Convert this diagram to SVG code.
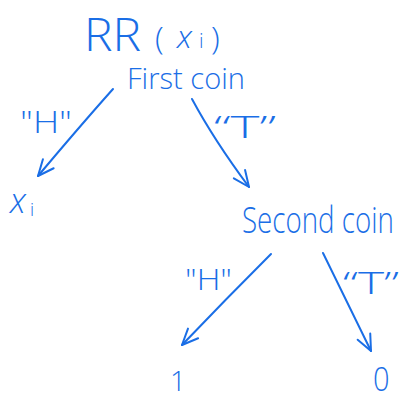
<svg xmlns="http://www.w3.org/2000/svg" width="401" height="400" viewBox="0 0 401 400">
  <defs>
    <style>
      .ink { fill: #1a6ee6; font-family: "Open Sans", "Liberation Sans", "DejaVu Sans", sans-serif; font-weight: 300; }
      .edge { fill: none; stroke: #1a6ee6; stroke-width: 2; stroke-linecap: round; stroke-linejoin: round; }
    </style>
    <marker id="head" markerUnits="userSpaceOnUse" markerWidth="30" markerHeight="30" refX="0" refY="0" viewBox="-20 -15 30 30" orient="auto">
      <path d="M-16,-7 L0,0 L-16,7" fill="none" stroke="#1a6ee6" stroke-width="2" stroke-linecap="round" stroke-linejoin="round"/>
    </marker>
  </defs>
  <rect width="401" height="400" fill="#ffffff"/>

  <!-- title -->
  <g id="title">
    <text class="ink" x="84" y="51" font-size="46" textLength="57" lengthAdjust="spacingAndGlyphs">RR</text>
    <text class="ink" x="155" y="49" font-size="32">(</text>
    <text class="ink" x="177" y="48" font-size="32" font-style="italic">x</text>
    <text class="ink" x="199" y="48" font-size="20">i</text>
    <text class="ink" x="211" y="49" font-size="32">)</text>
  </g>

  <!-- nodes -->
  <g id="first-coin">
    <text class="ink" x="127" y="89" font-size="30" textLength="118" lengthAdjust="spacingAndGlyphs">First coin</text>
  </g>
  <g id="leaf-xi">
    <text class="ink" x="10" y="213" font-size="34" font-style="italic">x</text>
    <text class="ink" x="30" y="216" font-size="18">i</text>
  </g>
  <g id="second-coin">
    <text class="ink" transform="translate(242,233) scale(0.77,1)" font-size="36">Second coin</text>
  </g>
  <g id="leaf-1">
    <text class="ink" x="170" y="391" font-size="28">1</text>
  </g>
  <g id="leaf-0">
    <text class="ink" transform="translate(373,391) scale(1,1.15)" font-size="29">0</text>
  </g>

  <!-- connectors and their labels -->
  <g id="connectors">
    <path class="edge" d="M113,89 Q80,126 38,176" marker-end="url(#head)"/>
    <path class="edge" d="M192,99 Q214,140 249,187" marker-end="url(#head)"/>
    <path class="edge" d="M271,254 Q225,300 182,345" marker-end="url(#head)"/>
    <path class="edge" d="M323,253 Q345,298 371,351" marker-end="url(#head)"/>

    <text class="ink" x="20" y="133" font-size="32" textLength="52" lengthAdjust="spacingAndGlyphs">"H"</text>
    <text class="ink" x="214" y="138" font-size="32" textLength="62" lengthAdjust="spacingAndGlyphs">“T”</text>
    <text class="ink" x="185" y="290" font-size="30" textLength="47" lengthAdjust="spacingAndGlyphs">"H"</text>
    <text class="ink" x="343" y="294" font-size="32" textLength="56" lengthAdjust="spacingAndGlyphs">“T”</text>
  </g>
</svg>
